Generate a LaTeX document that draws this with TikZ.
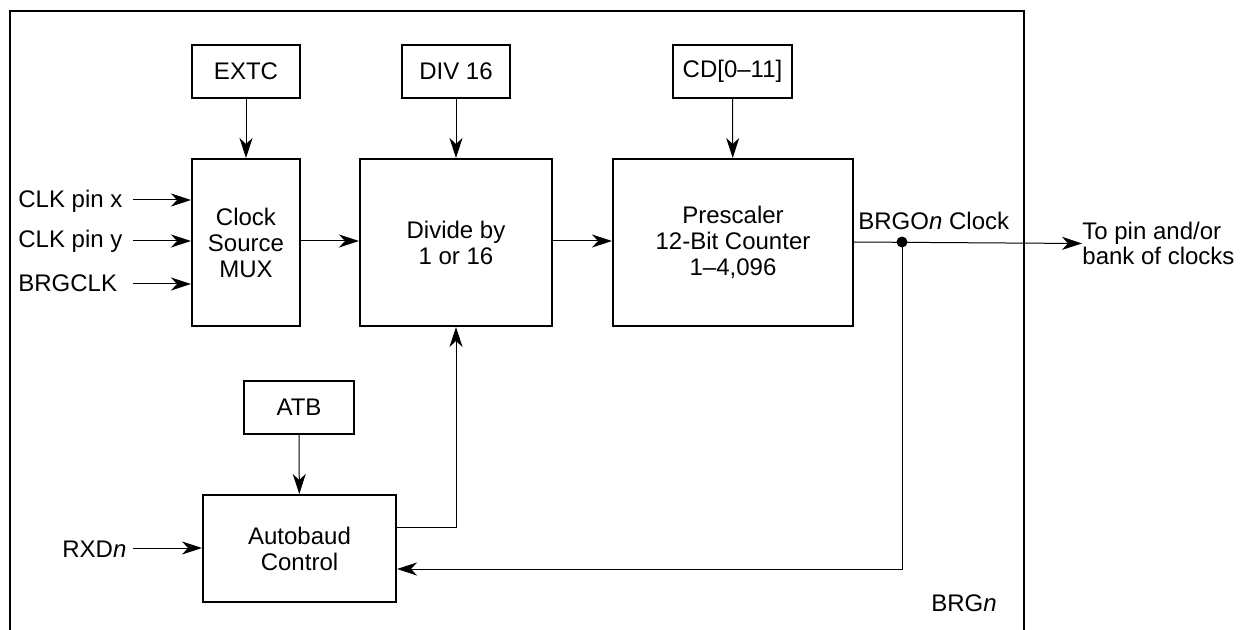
\documentclass[tikz,border=0pt]{standalone}
\usepackage{fontspec}
\setmainfont{Liberation Sans}
\usetikzlibrary{positioning, arrows.meta}

\begin{document}
\begin{tikzpicture}[
    x=0.5pt, y=-0.5pt,
    box/.style={
        rectangle,
        draw=black,
        line width=1pt,
        inner sep=0pt,
        align=center,
        font=\fontsize{12}{13}\selectfont
    },
    regbox/.style={box, minimum height=26.5pt},
    blockbox/.style={box, minimum height=83.5pt},
    lbl/.style={inner sep=0pt, align=left, font=\fontsize{12}{12.5}\selectfont},
    arrow/.style={-{Stealth[length=10pt, width=6.5pt, inset=3pt]}, line width=0.5pt},
    frame/.style={line width=1pt}
]
\useasboundingbox (0,0) rectangle (1242,630);

% outer frame of the generator
\draw[frame] (10,630) -- (10,11) -- (1024,11) -- (1024,630);

% register boxes
\node[regbox, minimum width=54pt] (extc) at (246,71.5) {EXTC};
\node[regbox, minimum width=54pt] (div) at (456,71.5) {DIV 16};
\node[regbox, minimum width=59.5pt] (cd) at (732.5,71.5) {CD[0--11]};
\node[regbox, minimum width=55pt] (atb) at (299,407.5) {ATB};

% main blocks
\node[blockbox, minimum width=54pt] (mux) at (246,242.5) {Clock\\Source\\MUX};
\node[blockbox, minimum width=96pt] (divide) at (456,242.5) {Divide by\\1 or 16};
\node[blockbox, minimum width=120pt] (presc) at (733,242.5) {Prescaler\\12-Bit Counter\\1--4,096};
\node[box, minimum width=96.5pt, minimum height=53.5pt] (auto) at (299.5,548.5) {Autobaud\\Control};

% input labels
\node[lbl, anchor=base west] (clkx) at (18,208) {CLK pin x};
\node[lbl, anchor=base west] (clky) at (18,248) {CLK pin y};
\node[lbl, anchor=base west] (brgclk) at (18,292) {BRGCLK};
\node[lbl, anchor=base west] (rxd) at (62,557) {RXD\textit{n}};
\coordinate (inx) at (133,200);
\coordinate (iny) at (133,241);
\coordinate (inb) at (133,284);
\coordinate (inr) at (133,548);

% output side
\coordinate (tap) at (902,242);
\coordinate (fb) at (902,569);
\node[lbl, anchor=base west] (brgo) at (858,230) {BRGO\textit{n} Clock};
\node[lbl, anchor=west] (topin) at (1082,243.5) {To pin and/or\\bank of clocks};
\node[lbl, anchor=base west] (brgn) at (931,611) {BRG\textit{n}};

\draw[arrow] (extc) -- (mux);
\draw[arrow] (div) -- (divide);
\draw[arrow] (cd) -- (presc);
\draw[arrow] (atb) -- (auto);

\draw[arrow] (inx) -- (inx -| mux.west);
\draw[arrow] (iny) -- (iny -| mux.west);
\draw[arrow] (inb) -- (inb -| mux.west);
\draw[arrow] (inr) -- (inr -| auto.west);

\draw[arrow] (mux.east |- iny) -- (divide.west |- iny);
\draw[arrow] (divide.east |- iny) -- (presc.west |- iny);
\draw[arrow] (presc.east |- tap) -- (topin.west);

% feedback and autobaud path
\fill (tap) circle (2.75pt);
\draw[arrow] (tap) -- (fb) -- (fb -| auto.east);
\draw[arrow] ([yshift=10.75pt]auto.east) -| (divide.south);

\end{tikzpicture}
\end{document}
